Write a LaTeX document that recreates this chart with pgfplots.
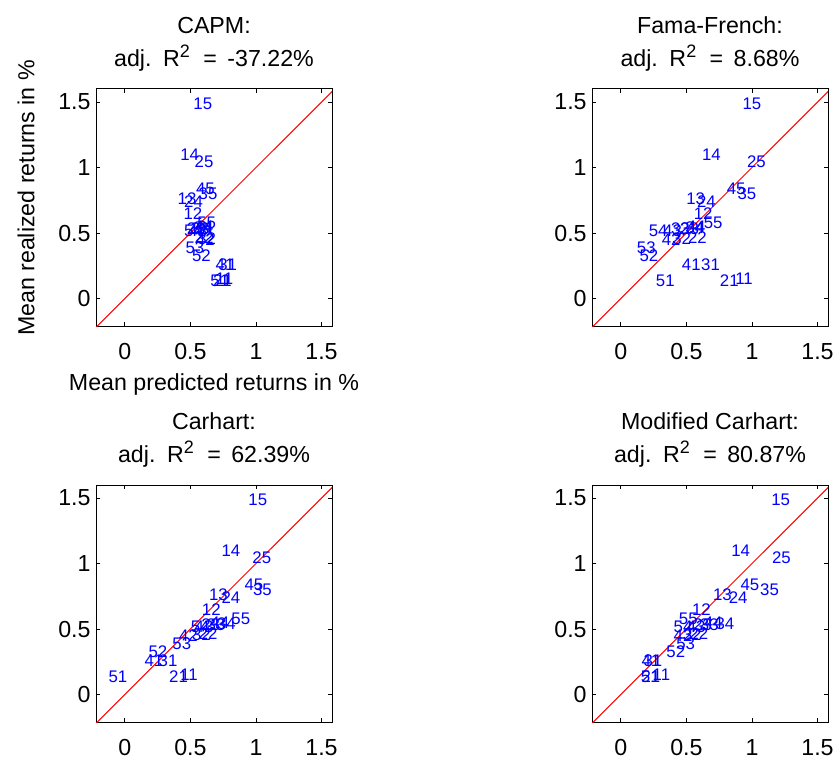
\documentclass[border=0pt]{standalone}
\usepackage{fontspec}
\setmainfont{Liberation Sans}
\usepackage{pgfplots}
\pgfplotsset{compat=1.18}
\usepackage{pgfplotstable}

\pgfplotstableread{
x y label
0.69 0.148 11
0.445 0.65 12
0.40 0.76 13
0.42 1.10 14
0.52 1.49 15
0.67 0.14 21
0.53 0.465 22
0.47 0.53 23
0.45 0.74 24
0.53 1.046 25
0.71 0.255 31
0.55 0.455 32
0.50 0.53 33
0.52 0.54 34
0.56 0.80 35
0.69 0.255 41
0.54 0.45 42
0.48 0.52 43
0.53 0.545 44
0.54 0.84 45
0.65 0.133 51
0.51 0.33 52
0.46 0.39 53
0.45 0.52 54
0.55 0.58 55
}\capm

\pgfplotstableread{
x y label
0.87 0.148 11
0.553 0.65 12
0.496 0.76 13
0.617 1.10 14
0.925 1.49 15
0.753 0.14 21
0.51 0.465 22
0.45 0.53 23
0.578 0.74 24
0.96 1.046 25
0.61 0.255 31
0.39 0.455 32
0.38 0.53 33
0.49 0.54 34
0.887 0.80 35
0.463 0.255 41
0.31 0.45 42
0.32 0.52 43
0.50 0.545 44
0.805 0.84 45
0.265 0.133 51
0.14 0.33 52
0.12 0.39 53
0.21 0.52 54
0.63 0.58 55
}\ff

\pgfplotstableread{
x y label
0.42 0.148 11
0.585 0.65 12
0.64 0.76 13
0.735 1.10 14
0.94 1.49 15
0.335 0.14 21
0.56 0.465 22
0.58 0.53 23
0.735 0.74 24
0.97 1.046 25
0.255 0.255 31
0.51 0.455 32
0.62 0.53 33
0.70 0.54 34
0.975 0.80 35
0.147 0.255 41
0.41 0.45 42
0.53 0.52 43
0.65 0.545 44
0.91 0.84 45
-0.127 0.133 51
0.178 0.33 52
0.36 0.39 53
0.50 0.52 54
0.81 0.58 55
}\carhart

\pgfplotstableread{
x y label
0.24 0.148 11
0.54 0.65 12
0.70 0.76 13
0.84 1.10 14
1.145 1.49 15
0.155 0.14 21
0.52 0.465 22
0.55 0.53 23
0.82 0.74 24
1.15 1.046 25
0.17 0.255 31
0.47 0.455 32
0.60 0.53 33
0.72 0.54 34
1.06 0.80 35
0.155 0.255 41
0.40 0.45 42
0.50 0.52 43
0.63 0.545 44
0.91 0.84 45
0.15 0.133 51
0.345 0.33 52
0.42 0.39 53
0.40 0.52 54
0.44 0.58 55
}\modcarhart

\newcommand{\rsq}{R\raisebox{0.42em}{\fontsize{9}{10}\selectfont 2}}
\newcommand{\titleline}[1]{adj.\hspace{1.5pt} \rsq\hspace{3.5pt} =\hspace{2pt} #1}

\pgfplotsset{
  panel/.style={
    width=118pt, height=118.5pt, scale only axis,
    xmin=-0.22, xmax=1.58, ymin=-0.21, ymax=1.6,
    xtick={0,0.5,1,1.5}, ytick={0,0.5,1,1.5},
    tick align=inside, major tick length=2pt,
    tick pos=both, ticklabel pos=left,
    tick style={black, line width=0.4pt},
    axis line style={black, line width=0.5pt},
    /pgf/number format/assume math mode=true,
    tick label style={font=\fontsize{11.6}{13}\selectfont, inner sep=0pt},
    xticklabel style={yshift=-8.5pt},
    yticklabel style={xshift=-2.5pt},
    title style={at={(0.5,1)}, anchor=south, yshift=2.5pt, inner sep=0pt,
      align=center, font=\fontsize{11.6}{16.5}\selectfont},
    label style={font=\fontsize{11.6}{13}\selectfont, inner sep=0pt},
  },
  diag/.style={red, line width=0.5pt},
  lbl/.style={only marks, mark=none, nodes near coords, point meta=explicit symbolic,
    nodes near coords style={anchor=west, inner sep=0pt,
      font=\fontsize{8.4}{10}\selectfont, text=blue}},
}

\begin{document}
\begin{tikzpicture}
\useasboundingbox (0,0) rectangle (417.5pt,-379.5pt);

\begin{axis}[panel, at={(48pt,-44.5pt)}, anchor=north west,
  title={CAPM:\\\titleline{-37.22\%}},
  ylabel={Mean realized returns in \%},
  ylabel style={at={(axis description cs:0,0.5)}, anchor=center, yshift=35pt, xshift=4.75pt},
  xlabel={Mean predicted returns in \%},
  xlabel style={at={(axis description cs:0.5,0)}, anchor=base, yshift=-32pt}]
\addplot[diag] coordinates {(-0.3,-0.3) (1.7,1.7)};
\addplot[lbl] table[x=x, y=y, meta=label] {\capm};
\end{axis}

\begin{axis}[panel, at={(296pt,-44.5pt)}, anchor=north west,
  title={Fama-French:\\\titleline{8.68\%}}]
\addplot[diag] coordinates {(-0.3,-0.3) (1.7,1.7)};
\addplot[lbl] table[x=x, y=y, meta=label] {\ff};
\end{axis}

\begin{axis}[panel, at={(48pt,-242.5pt)}, anchor=north west,
  title={Carhart:\\\titleline{62.39\%}}]
\addplot[diag] coordinates {(-0.3,-0.3) (1.7,1.7)};
\addplot[lbl] table[x=x, y=y, meta=label] {\carhart};
\end{axis}

\begin{axis}[panel, at={(296pt,-242.5pt)}, anchor=north west,
  title={Modified Carhart:\\\titleline{80.87\%}}]
\addplot[diag] coordinates {(-0.3,-0.3) (1.7,1.7)};
\addplot[lbl] table[x=x, y=y, meta=label] {\modcarhart};
\end{axis}
\end{tikzpicture}
\end{document}
